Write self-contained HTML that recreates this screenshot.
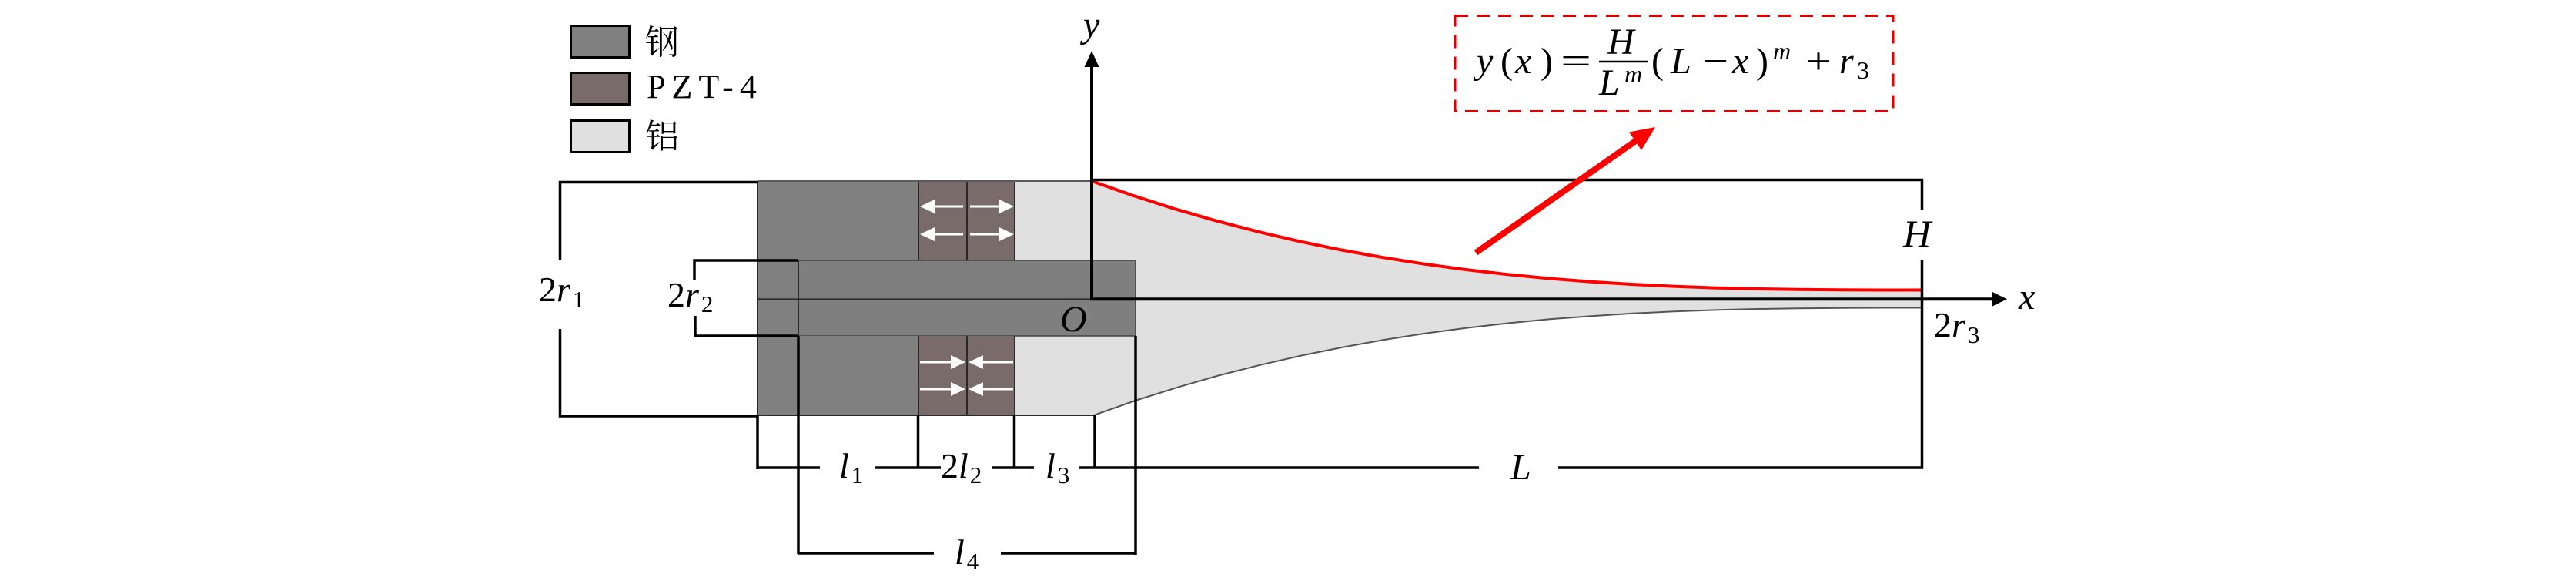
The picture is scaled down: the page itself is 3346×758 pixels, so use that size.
<!DOCTYPE html>
<html><head><meta charset="utf-8"><style>
html,body{margin:0;padding:0;background:#fff;}
svg{display:block;}
text{font-family:"Liberation Serif","DejaVu Serif","Times New Roman",serif;fill:#000;}
.i{font-style:italic;}
.cjk{font-family:"Liberation Serif","Noto Serif CJK SC","Noto Sans CJK SC",serif;}
</style></head><body>
<svg width="3346" height="758" viewBox="0 0 3346 758" xmlns="http://www.w3.org/2000/svg">
<rect width="3346" height="758" fill="#fff"/>

<!-- Legend -->
<rect x="741.5" y="33.5" width="76" height="41" fill="#808080" stroke="#000" stroke-width="3"/>
<rect x="741.5" y="94.5" width="76" height="41" fill="#7a6b6b" stroke="#000" stroke-width="3"/>
<rect x="741.5" y="156.5" width="76" height="41" fill="#e0e0e0" stroke="#000" stroke-width="3"/>
<text class="cjk" x="838" y="70" style="font-size:44px">钢</text>
<text x="840" y="127" style="font-size:44px;letter-spacing:8px">PZT-4</text>
<text class="cjk" x="838" y="192" style="font-size:44px">铝</text>

<!-- Body fills -->
<rect x="984" y="235" width="209" height="103" fill="#808080"/>
<rect x="1193" y="235" width="125" height="103" fill="#7a6b6b"/>
<path d="M1318,235 L1418,235 L1472,253.9 L1526,271.2 L1580,286.7 L1634,300.7 L1688,313.3 L1742,324.4 L1796,334.1 L1850,342.7 L1904,350 L1958,356.2 L2011,361.4 L2065,365.6 L2119,369 L2173,371.6 L2227,373.6 L2281,374.9 L2335,375.8 L2389,376.3 L2443,376.5 L2497,376.5 L2497,399.5 L2443,399.5 L2390,399.7 L2336,400.2 L2282,401 L2228,402.4 L2175,404.3 L2121,406.8 L2067,410.2 L2013,414.3 L1960,419.4 L1906,425.5 L1852,432.6 L1798,441 L1745,450.5 L1691,461.4 L1637,473.7 L1583,487.4 L1530,502.6 L1476,519.5 L1422,538.5 L1318,538.5 Z" fill="#e0e0e0"/>
<rect x="984" y="338" width="53" height="98" fill="#808080"/>
<rect x="1037" y="338" width="438" height="98" fill="#7f7f7f" stroke="#444" stroke-width="1.5"/>
<rect x="984" y="436" width="209" height="103" fill="#808080"/>
<rect x="1193" y="436" width="125" height="103" fill="#7a6b6b"/>

<!-- Body outlines -->
<g stroke="#2a2a2a" stroke-width="2" fill="none">
<line x1="984" y1="235" x2="984" y2="539"/>
<line x1="1037" y1="338" x2="1037" y2="436"/>
<line x1="1193" y1="235" x2="1193" y2="338"/>
<line x1="1256" y1="235" x2="1256" y2="338"/>
<line x1="1318" y1="235" x2="1318" y2="338"/>
<line x1="1193" y1="436" x2="1193" y2="539"/>
<line x1="1256" y1="436" x2="1256" y2="539"/>
<line x1="1318" y1="436" x2="1318" y2="539"/>
<line x1="984" y1="539" x2="1422" y2="539"/>
<line x1="984" y1="388.3" x2="1418" y2="388.3" stroke-width="1.8"/>
</g>
<line x1="984" y1="235" x2="1418" y2="235" stroke="#5a5a5a" stroke-width="2"/>
<!-- lower horn edge -->
<polyline points="1422,538.5 1476,519.5 1530,502.6 1583,487.4 1637,473.7 1691,461.4 1745,450.5 1798,441 1852,432.6 1906,425.5 1960,419.4 2013,414.3 2067,410.2 2121,406.8 2175,404.3 2228,402.4 2282,401 2336,400.2 2390,399.7 2443,399.5 2497,399.5" fill="none" stroke="#555" stroke-width="2"/>
<!-- red upper curve -->
<polyline points="1418,235 1472,253.9 1526,271.2 1580,286.7 1634,300.7 1688,313.3 1742,324.4 1796,334.1 1850,342.7 1904,350 1958,356.2 2011,361.4 2065,365.6 2119,369 2173,371.6 2227,373.6 2281,374.9 2335,375.8 2389,376.3 2443,376.5 2497,376.5" fill="none" stroke="#f00" stroke-width="4"/>

<!-- PZT arrows -->
<g stroke="#fff" stroke-width="3">
<line x1="1251" y1="268" x2="1210" y2="268"/>
<line x1="1260" y1="268" x2="1301" y2="268"/>
<line x1="1251" y1="304" x2="1210" y2="304"/>
<line x1="1260" y1="304" x2="1301" y2="304"/>
<line x1="1195" y1="470" x2="1237" y2="470"/>
<line x1="1316" y1="470" x2="1275" y2="470"/>
<line x1="1195" y1="505" x2="1237" y2="505"/>
<line x1="1316" y1="505" x2="1275" y2="505"/>
</g>
<g fill="#fff">
<polygon points="1195,268 1214,259 1214,277"/>
<polygon points="1317,268 1298,259 1298,277"/>
<polygon points="1195,304 1214,295 1214,313"/>
<polygon points="1317,304 1298,295 1298,313"/>
<polygon points="1254,470 1235,461 1235,479"/>
<polygon points="1258,470 1277,461 1277,479"/>
<polygon points="1254,505 1235,496 1235,514"/>
<polygon points="1258,505 1277,496 1277,514"/>
</g>

<!-- Axes -->
<line x1="1418" y1="390" x2="1418" y2="82" stroke="#000" stroke-width="4"/>
<polygon points="1418,66 1408.5,87 1427.5,87" fill="#000"/>
<line x1="1416" y1="388.3" x2="2590" y2="388.3" stroke="#000" stroke-width="4"/>
<polygon points="2607,388.3 2587,378.5 2587,398" fill="#000"/>

<!-- Dimension lines -->
<g stroke="#000" stroke-width="3.5" fill="none" stroke-linecap="butt">
<path d="M984,236.5 H727.5 V338"/>
<path d="M727.5,427 V540 H984"/>
<path d="M1037,338 H902 V363"/>
<path d="M903,410 V436 H1037"/>
<line x1="984" y1="539" x2="984" y2="609"/>
<line x1="1037" y1="436" x2="1037" y2="719"/>
<line x1="1192.5" y1="539" x2="1192.5" y2="607"/>
<line x1="1317.5" y1="539" x2="1317.5" y2="607"/>
<line x1="1422" y1="538" x2="1422" y2="607"/>
<line x1="1475" y1="436" x2="1475" y2="720"/>
<path d="M1418,233.5 H2496.5 V272"/>
<path d="M2496.5,338 V607 H2024"/>
<line x1="984" y1="607" x2="1065" y2="607"/>
<line x1="1137" y1="607" x2="1222" y2="607"/>
<line x1="1288" y1="607" x2="1343" y2="607"/>
<line x1="1402" y1="607" x2="1921" y2="607"/>
<line x1="1037" y1="718" x2="1213" y2="718"/>
<line x1="1300" y1="718" x2="1475" y2="718"/>
</g>

<!-- Red arrow -->
<line x1="1917" y1="328" x2="2128" y2="180.5" stroke="#f00" stroke-width="8"/>
<polygon points="2150,165 2116,171.5 2132,195" fill="#f00"/>

<!-- Dashed formula box -->
<rect x="1890" y="20.5" width="569" height="124" fill="none" stroke="#e00000" stroke-width="3" stroke-dasharray="17 11"/>

<!-- Formula -->
<text class="i" x="1918" y="95" style="font-size:48px">y</text>
<text x="1949" y="95" style="font-size:48px">(</text>
<text class="i" x="1968" y="95" style="font-size:48px">x</text>
<text x="2001" y="95" style="font-size:48px">)</text>
<text x="2027" y="95" style="font-size:48px" textLength="40" lengthAdjust="spacingAndGlyphs">=</text>
<text class="i" x="2088" y="70" style="font-size:48px">H</text>
<line x1="2077" y1="80" x2="2141" y2="80" stroke="#000" stroke-width="2.5"/>
<text class="i" x="2077" y="123" style="font-size:48px">L</text>
<text class="i" x="2110" y="107" style="font-size:32px">m</text>
<text x="2145" y="95" style="font-size:48px">(</text>
<text class="i" x="2170" y="95" style="font-size:48px">L</text>
<text x="2211" y="95" style="font-size:48px" textLength="34" lengthAdjust="spacingAndGlyphs">−</text>
<text class="i" x="2250" y="95" style="font-size:48px">x</text>
<text x="2281" y="95" style="font-size:48px">)</text>
<text class="i" x="2303" y="77" style="font-size:32px">m</text>
<text x="2345" y="95" style="font-size:48px" textLength="34" lengthAdjust="spacingAndGlyphs">+</text>
<text class="i" x="2389" y="95" style="font-size:48px">r</text>
<text x="2412" y="102" style="font-size:32px">3</text>

<!-- Labels -->
<text x="700" y="391" style="font-size:46px">2<tspan class="i">r</tspan><tspan dx="3" dy="8" style="font-size:31px">1</tspan></text>
<text x="867" y="398" style="font-size:46px">2<tspan class="i">r</tspan><tspan dx="3" dy="7" style="font-size:31px">2</tspan></text>
<text class="i" x="1377" y="430" style="font-size:48px">O</text>
<text class="i" x="1407" y="48" style="font-size:48px">y</text>
<text class="i" x="2622" y="401" style="font-size:48px">x</text>
<text class="i" x="2472" y="320" style="font-size:50px">H</text>
<text x="2512" y="437" style="font-size:46px">2<tspan class="i">r</tspan><tspan dx="3" dy="8" style="font-size:31px">3</tspan></text>
<text class="i" x="1962" y="622" style="font-size:48px">L</text>
<text x="1090" y="620" style="font-size:46px"><tspan class="i">l</tspan><tspan dx="3" dy="7" style="font-size:31px">1</tspan></text>
<text x="1222" y="620" style="font-size:46px">2<tspan class="i">l</tspan><tspan dx="2" dy="7" style="font-size:31px">2</tspan></text>
<text x="1358" y="620" style="font-size:46px"><tspan class="i">l</tspan><tspan dx="3" dy="7" style="font-size:31px">3</tspan></text>
<text x="1240" y="732" style="font-size:46px"><tspan class="i">l</tspan><tspan dx="3" dy="7" style="font-size:31px">4</tspan></text>
</svg>
</body></html>
